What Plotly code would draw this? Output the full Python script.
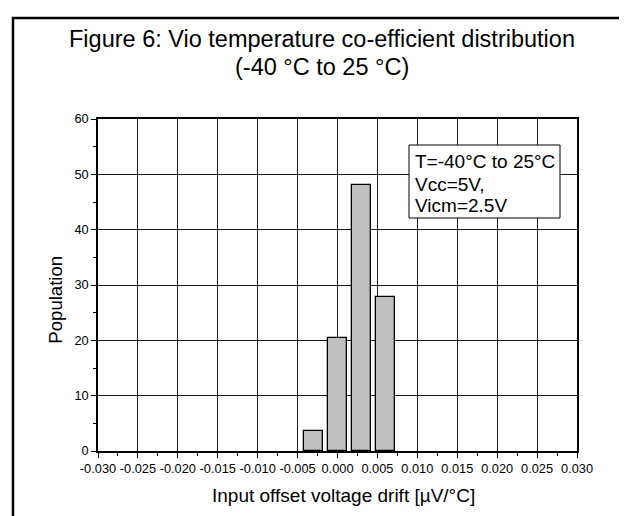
import plotly.graph_objects as go

# ---- data ----
bin_centers = [-0.003, 0.000, 0.003, 0.006]
population = [3.7, 20.4, 48.1, 27.8]
bar_width = 0.0024

x_tickvals = [-0.030, -0.025, -0.020, -0.015, -0.010, -0.005, 0.000,
              0.005, 0.010, 0.015, 0.020, 0.025, 0.030]
x_ticktext = ["-0.030", "-0.025", "-0.020", "-0.015", "-0.010", "-0.005", "0.000",
              "0.005", "0.010", "0.015", "0.020", "0.025", "0.030"]
y_tickvals = [0, 10, 20, 30, 40, 50, 60]

title_lines = ["Figure 6: Vio temperature co-efficient distribution",
               "(-40 °C to 25 °C)"]
legend_lines = ["T=-40°C to 25°C", "Vcc=5V,", "Vicm=2.5V"]
x_title = "Input offset voltage drift [µV/°C]"
y_title = "Population"

# ---- layout geometry (pixels) ----
W, H = 627, 516
L, R, T, B = 90, 58, 111, 73
PW = W - L - R
PH = H - T - B
FONT = "Liberation Sans, Arial, sans-serif"


def px(x):
    return (x - L) / PW


def py(y):
    return (H - B - y) / PH


fig = go.Figure()
fig.add_trace(go.Bar(
    x=bin_centers, y=population, width=bar_width,
    marker=dict(color="#c0c0c0", line=dict(color="black", width=1.3)),
    showlegend=False,
))

axis_common = dict(
    showline=True, linecolor="black", linewidth=1.5, mirror=True,
    showgrid=True, gridcolor="#1a1a1a", gridwidth=1,
    ticks="outside", ticklen=5, tickwidth=1, tickcolor="black",
    tickfont=dict(family=FONT, size=12.8, color="black"),
    zeroline=False,
)

fig.update_xaxes(
    range=[-0.030, 0.030], tickvals=x_tickvals, ticktext=x_ticktext,
    minor=dict(dtick=0.0025, tick0=0, ticks="outside", ticklen=3,
               tickcolor="black", showgrid=False),
    **axis_common,
)
fig.update_yaxes(
    range=[0, 60], tickvals=y_tickvals,
    minor=dict(dtick=5, tick0=0, ticks="outside", ticklen=3,
               tickcolor="black", showgrid=False),
    **axis_common,
)


def text_at(text, x, y, size, xanchor="center", angle=0):
    return dict(text=text, x=px(x), y=py(y), xref="paper", yref="paper",
                xanchor=xanchor, yanchor="middle", showarrow=False,
                textangle=angle,
                font=dict(family=FONT, size=size, color="black"))


title_y = [31, 59]
legend_y = [154, 176, 197]

annotations = []
for line, yy in zip(title_lines, title_y):
    annotations.append(text_at(line, 313.5, yy, 23.5))
annotations.append(text_at(x_title, 335, 487, 19))
annotations.append(text_at(y_title, 46.7, 292, 18.6, angle=-90))
for line, yy in zip(legend_lines, legend_y):
    annotations.append(text_at(line, 405, yy, 19, xanchor="left"))

shapes = [
    # legend box
    dict(type="rect", xref="paper", yref="paper",
         x0=px(401), x1=px(552), y0=py(210), y1=py(137),
         fillcolor="white", line=dict(color="black", width=1), layer="above"),
    # outer frame
    dict(type="rect", xref="paper", yref="paper",
         x0=px(5), x1=px(622), y0=py(511), y1=py(10),
         fillcolor="rgba(0,0,0,0)", line=dict(color="black", width=2.5),
         layer="above"),
]

fig.update_layout(
    width=W, height=H,
    margin=dict(l=L, r=R, t=T, b=B, pad=0),
    paper_bgcolor="white", plot_bgcolor="white",
    annotations=annotations, shapes=shapes,
    bargap=0,
    font=dict(family=FONT, color="black"),
)

fig.write_html("out.html")
